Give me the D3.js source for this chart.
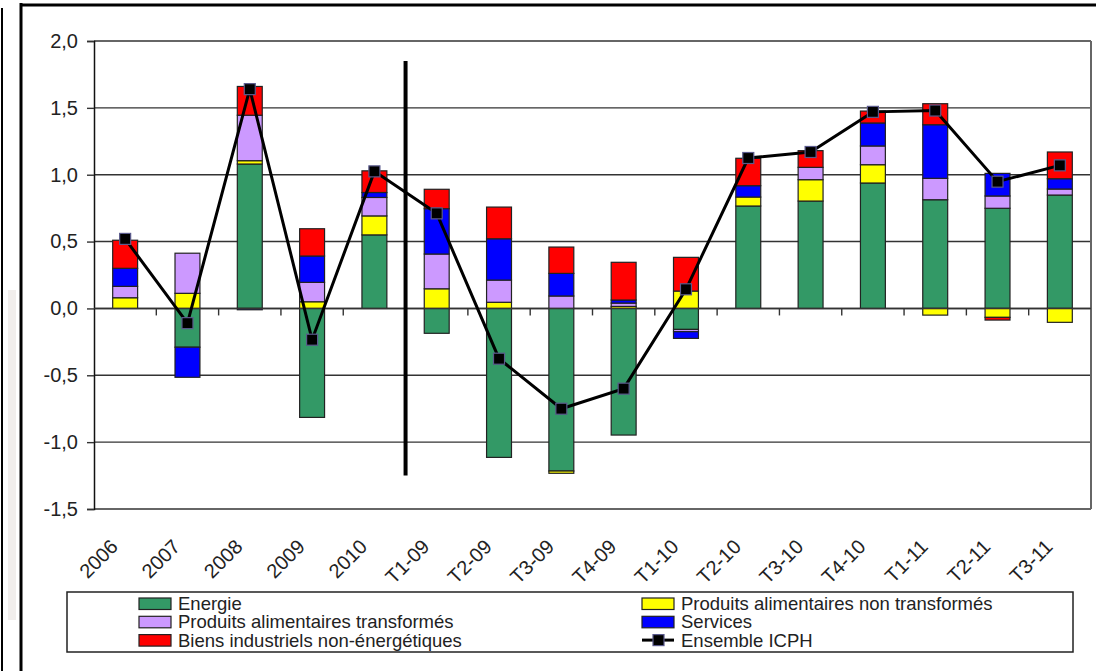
<!DOCTYPE html>
<html lang="fr">
    <head>
        <meta charset="utf-8">
        <style>
            body { margin: 0; background: #fff; }
            text { font-family: "Liberation Sans", Arial, sans-serif; fill: #222; }
            .grid line { stroke: #333; stroke-width: 1.4px; }
            .icph { fill: none; stroke: #000; stroke-width: 3px; }
        </style>
        <script src="https://d3js.org/d3.v7.min.js"></script>
        <title>ICPH contributions</title>
    </head>
    <body>
        <div id="chart"></div>
        <script>
            var categories = ["2006", "2007", "2008", "2009", "2010", "T1-09", "T2-09", "T3-09", "T4-09",
                              "T1-10", "T2-10", "T3-10", "T4-10", "T1-11", "T2-11", "T3-11"];
            var energie   = [0, -0.29, 1.08, -0.815, 0.55, -0.186, -1.114, -1.216, -0.947, -0.157, 0.766, 0.803, 0.938, 0.813, 0.749, 0.848];
            var nonTransf = [0.08, 0.113, 0.025, 0.05, 0.142, 0.147, 0.046, -0.017, 0.015, 0.13, 0.067, 0.16, 0.137, -0.05, -0.067, -0.104];
            var transf    = [0.085, 0.30, 0.34, 0.145, 0.138, 0.26, 0.166, 0.093, 0.025, -0.017, 0, 0.092, 0.14, 0.16, 0.092, 0.045];
            var services  = [0.135, -0.225, -0.01, 0.197, 0.037, 0.339, 0.309, 0.169, 0.023, -0.05, 0.085, 0, 0.172, 0.401, 0.169, 0.077];
            var biens     = [0.21, 0, 0.215, 0.204, 0.162, 0.145, 0.237, 0.197, 0.282, 0.252, 0.205, 0.125, 0.089, 0.157, -0.02, 0.2];
            var icph      = [0.52, -0.11, 1.64, -0.234, 1.025, 0.711, -0.376, -0.75, -0.60, 0.143, 1.125, 1.17, 1.47, 1.48, 0.948, 1.07];
            var yTicks = [-1.5, -1.0, -0.5, 0, 0.5, 1.0, 1.5, 2.0];
            var separator = [1.85, -1.25];

            var series = [
                {key: "energie", name: "Energie", color: "#339966", values: energie},
                {key: "nonTransf", name: "Produits alimentaires non transformés", color: "#ffff00", values: nonTransf},
                {key: "transf", name: "Produits alimentaires transformés", color: "#cc99ff", values: transf},
                {key: "services", name: "Services", color: "#0000ff", values: services},
                {key: "biens", name: "Biens industriels non-énergétiques", color: "#ff0000", values: biens}
            ];

            var W = 1096, H = 671;
            var margin = {top: 41, right: 5, bottom: 162, left: 94};
            var width = 1091 - margin.left,
                height = 509 - margin.top;

            var root = d3.select("#chart")
                .append("svg")
                    .attr("width", W)
                    .attr("height", H);

            // page frame around the chart
            root.append("rect").attr("x", 8).attr("y", 290).attr("width", 8).attr("height", 330).attr("fill", "#f1eeec");
            root.append("line").attr("x1", 2).attr("x2", 2).attr("y1", 8).attr("y2", H).attr("stroke", "#000").attr("stroke-width", 2);
            root.append("line").attr("x1", 21).attr("x2", 21).attr("y1", 3).attr("y2", H).attr("stroke", "#000").attr("stroke-width", 3);
            root.append("line").attr("x1", 20).attr("x2", W).attr("y1", 5).attr("y2", 5).attr("stroke", "#000").attr("stroke-width", 3);

            var svg = root.append("g")
                .attr("transform", "translate(" + margin.left + "," + margin.top + ")");

            var x = d3.scaleBand()
                .domain(categories)
                .range([0, width]);

            var y = d3.scaleLinear()
                .domain([-1.5, 2.0])
                .range([height, 0]);

            var table = categories.map(function(c, i) {
                var row = {cat: c};
                series.forEach(function(s) { row[s.key] = s.values[i]; });
                return row;
            });

            var stacked = d3.stack()
                .keys(series.map(function(s) { return s.key; }))
                .offset(d3.stackOffsetDiverging)(table);

            // horizontal grid
            svg.append("g")
                .attr("class", "grid")
                .selectAll("line")
                .data(yTicks)
                .enter()
                .append("line")
                    .attr("x1", 0)
                    .attr("x2", width)
                    .attr("y1", function(d) { return y(d); })
                    .attr("y2", function(d) { return y(d); });

            svg.append("line")
                .attr("x1", width).attr("x2", width)
                .attr("y1", 0).attr("y2", height)
                .attr("stroke", "#666").attr("stroke-width", 2);

            // y axis
            var yAxis = svg.append("g")
                .call(d3.axisLeft(y).tickValues(yTicks).tickSize(7)
                    .tickFormat(function(d) { return d3.format(".1f")(d).replace(".", ",").replace("\u2212", "-"); }));
            yAxis.select(".domain").attr("stroke", "#111").attr("stroke-width", 1.5);
            yAxis.selectAll(".tick line").attr("stroke", "#333").attr("stroke-width", 1.4);
            yAxis.selectAll("text")
                .attr("x", -16)
                .attr("fill", "#222")
                .style("font-size", "20px");

            var barW = x.bandwidth() * 0.4;

            svg.append("g")
                .selectAll("g")
                .data(stacked)
                .enter()
                .append("g")
                    .attr("fill", function(d, i) { return series[i].color; })
                .selectAll("rect")
                .data(function(d) { return d.filter(function(p) { return Math.abs(p[1] - p[0]) > 1e-9; }); })
                .enter()
                .append("rect")
                    .attr("x", function(d) { return x(d.data.cat) + (x.bandwidth() - barW) / 2; })
                    .attr("width", barW)
                    .attr("y", function(d) { return y(Math.max(d[0], d[1])); })
                    .attr("height", function(d) { return Math.abs(y(d[0]) - y(d[1])); })
                    .attr("stroke", "#222")
                    .attr("stroke-width", 1.2);

            // x axis ticks on the zero line
            svg.append("g")
                .selectAll("line")
                .data(categories.slice(1))
                .enter()
                .append("line")
                    .attr("x1", function(d) { return x(d); })
                    .attr("x2", function(d) { return x(d); })
                    .attr("y1", y(0))
                    .attr("y2", y(0) + 7)
                    .attr("stroke", "#333")
                    .attr("stroke-width", 1.4);

            svg.append("line")
                .attr("x1", 0).attr("x2", width)
                .attr("y1", y(0)).attr("y2", y(0))
                .attr("stroke", "#333").attr("stroke-width", 1.4);

            svg.selectAll(".xlab")
                .data(categories)
                .enter()
                .append("text")
                    .attr("class", "xlab")
                    .attr("text-anchor", "end")
                    .style("font-size", "20px")
                    .attr("transform", function(d) {
                        return "translate(" + (x(d) + x.bandwidth() / 2 - 6) + "," + (height + 39) + ") rotate(-45)";
                    })
                    .text(function(d) { return d; });

            // separator between annual and quarterly data
            svg.append("line")
                .attr("x1", x("T1-09")).attr("x2", x("T1-09"))
                .attr("y1", y(separator[0])).attr("y2", y(separator[1]))
                .attr("stroke", "#000").attr("stroke-width", 4);

            var valueline = d3.line()
                .x(function(d, i) { return x(categories[i]) + x.bandwidth() / 2; })
                .y(function(d) { return y(d); });

            svg.append("path")
                .datum(icph)
                .attr("class", "icph")
                .attr("d", valueline);

            svg.selectAll(".mark")
                .data(icph)
                .enter()
                .append("rect")
                    .attr("class", "mark")
                    .attr("x", function(d, i) { return x(categories[i]) + x.bandwidth() / 2 - 5.5; })
                    .attr("y", function(d) { return y(d) - 5.5; })
                    .attr("width", 11)
                    .attr("height", 11)
                    .attr("fill", "#000")
                    .attr("stroke", "#5a5a8c")
                    .attr("stroke-width", 1.2);

            // legend
            var legend = root.append("g");
            legend.append("rect")
                .attr("x", 67).attr("y", 592)
                .attr("width", 1006).attr("height", 60)
                .attr("fill", "#fff").attr("stroke", "#222").attr("stroke-width", 1.5);

            var items = series.map(function(s) { return {name: s.name, color: s.color}; });
            items.push({name: "Ensemble ICPH", line: true});
            var pos = [[139, 0], [642, 0], [139, 1], [642, 1], [139, 2], [642, 2]];

            items.forEach(function(it, i) {
                var px = pos[i][0], py = 603.5 + pos[i][1] * 18.3;
                var g = legend.append("g");
                if (it.line) {
                    g.append("line").attr("x1", px).attr("x2", px + 32).attr("y1", py).attr("y2", py)
                        .attr("stroke", "#000").attr("stroke-width", 3);
                    g.append("rect").attr("x", px + 11).attr("y", py - 5.5).attr("width", 11).attr("height", 11)
                        .attr("fill", "#000").attr("stroke", "#5a5a8c").attr("stroke-width", 1.2);
                } else {
                    g.append("rect").attr("x", px).attr("y", py - 5.5).attr("width", 32).attr("height", 11.5)
                        .attr("fill", it.color).attr("stroke", "#222").attr("stroke-width", 1.2);
                }
                g.append("text")
                    .attr("x", px + 39)
                    .attr("y", py + 6.5)
                    .style("font-size", "18.5px")
                    .text(it.name);
            });
        </script>
    </body>
</html>
